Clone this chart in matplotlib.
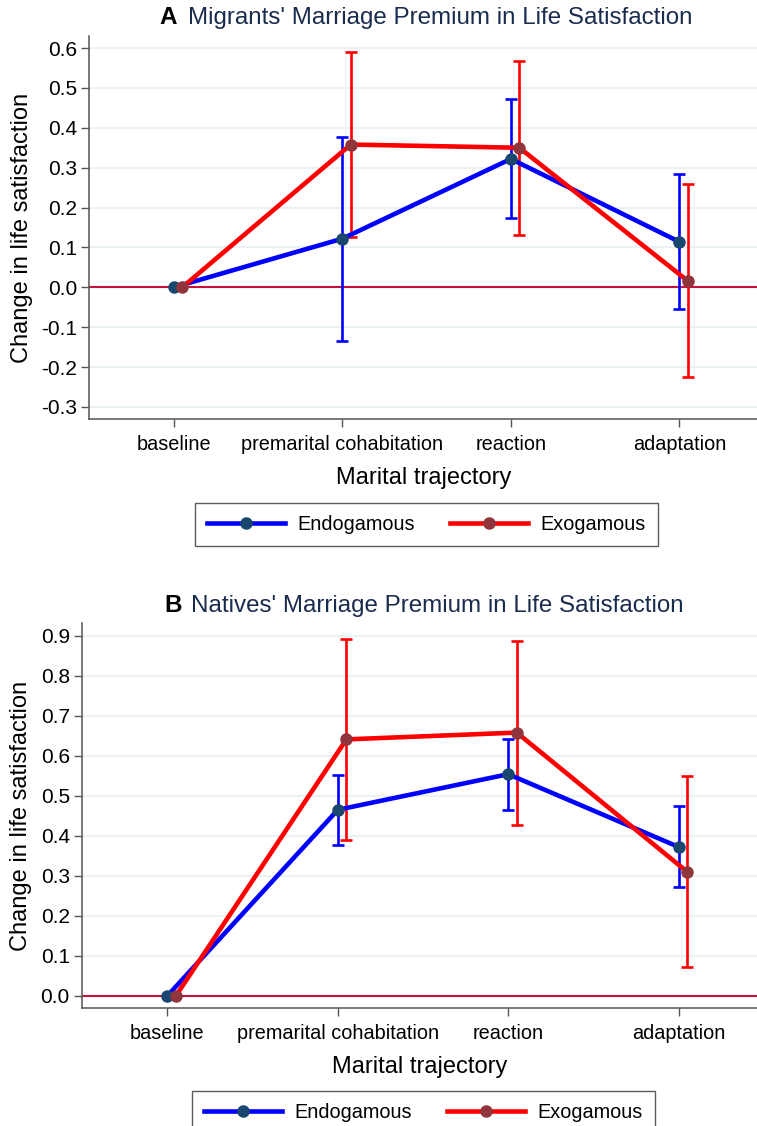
import numpy as np
import matplotlib
matplotlib.use("Agg")
import matplotlib.pyplot as plt
from matplotlib.lines import Line2D

plt.rcParams['font.family'] = ['Liberation Sans', 'DejaVu Sans']

# categories on the x axis
categories = ['baseline', 'premarital cohabitation', 'reaction', 'adaptation']

# Panel A - migrants
mig_endo = [0.0, 0.122, 0.322, 0.114]
mig_endo_lo = [np.nan, -0.135, 0.175, -0.055]
mig_endo_hi = [np.nan, 0.377, 0.471, 0.284]
mig_exo = [0.0, 0.358, 0.350, 0.016]
mig_exo_lo = [np.nan, 0.126, 0.131, -0.225]
mig_exo_hi = [np.nan, 0.591, 0.568, 0.258]

# Panel B - natives
nat_endo = [0.0, 0.465, 0.554, 0.372]
nat_endo_lo = [np.nan, 0.378, 0.465, 0.271]
nat_endo_hi = [np.nan, 0.553, 0.642, 0.475]
nat_exo = [0.0, 0.641, 0.658, 0.310]
nat_exo_lo = [np.nan, 0.390, 0.427, 0.073]
nat_exo_hi = [np.nan, 0.891, 0.887, 0.549]

mig_yticks = [-0.3, -0.2, -0.1, 0.0, 0.1, 0.2, 0.3, 0.4, 0.5, 0.6]
nat_yticks = [0.0, 0.1, 0.2, 0.3, 0.4, 0.5, 0.6, 0.7, 0.8, 0.9]

BLUE = '#0000ff'
RED = '#ff0000'
NAVY = '#1a476f'
MAROON = '#90353b'
GRID = '#eaf2f3'
ZERO = '#c8103c'
AXC = '#555555'
TITLE_C = '#1a2c4e'
LW = 3.3
MS = 8

fig = plt.figure(figsize=(7.57, 11.26), dpi=100)
ax_a = fig.add_axes([0.1182, 0.6276, 0.8818, 0.3407])
ax_b = fig.add_axes([0.1087, 0.1045, 0.8913, 0.3422])


def draw_panel(ax, endo, endo_lo, endo_hi, exo, exo_lo, exo_hi, yticks, ylim):
    x = np.arange(1, len(categories) + 1)
    xr = x + 0.05
    endo = np.array(endo)
    exo = np.array(exo)
    # confidence intervals
    e_err = [endo - np.array(endo_lo), np.array(endo_hi) - endo]
    r_err = [exo - np.array(exo_lo), np.array(exo_hi) - exo]
    ax.errorbar(x[1:], endo[1:], yerr=[e_err[0][1:], e_err[1][1:]], fmt='none',
                ecolor=BLUE, elinewidth=1.9, capsize=4, capthick=1.9, zorder=3)
    ax.errorbar(xr[1:], exo[1:], yerr=[r_err[0][1:], r_err[1][1:]], fmt='none',
                ecolor=RED, elinewidth=1.9, capsize=4, capthick=1.9, zorder=3)
    # connected lines
    ax.plot(x, endo, color=BLUE, lw=LW, marker='o', ms=MS, mfc=NAVY, mec=NAVY, zorder=4)
    ax.plot(xr, exo, color=RED, lw=LW, marker='o', ms=MS, mfc=MAROON, mec=MAROON, zorder=5)

    ax.axhline(0, color=ZERO, lw=1.5, zorder=2)
    ax.set_xlim(0.5, 4.46)
    ax.set_ylim(*ylim)
    ax.set_xticks(x)
    ax.set_xticklabels(categories, fontsize=14.3)
    ax.set_yticks(yticks)
    ax.set_yticklabels(['%.1f' % t for t in yticks], fontsize=15)
    ax.yaxis.grid(True, color=GRID, lw=1.5, zorder=0)
    ax.set_axisbelow(True)
    for s in ['top', 'right']:
        ax.spines[s].set_visible(False)
    for s in ['left', 'bottom']:
        ax.spines[s].set_color(AXC)
        ax.spines[s].set_linewidth(1.1)
    ax.tick_params(axis='both', colors=AXC, length=5.5, width=1.0, labelcolor='black')
    ax.tick_params(axis='x', pad=6)
    ax.tick_params(axis='y', pad=3.5)
    ax.set_xlabel('Marital trajectory', fontsize=17, labelpad=9)
    ax.set_ylabel('Change in life satisfaction', fontsize=17, labelpad=6)


draw_panel(ax_a, mig_endo, mig_endo_lo, mig_endo_hi, mig_exo, mig_exo_lo, mig_exo_hi,
           mig_yticks, (-0.331, 0.631))
draw_panel(ax_b, nat_endo, nat_endo_lo, nat_endo_hi, nat_exo, nat_exo_lo, nat_exo_hi,
           nat_yticks, (-0.0315, 0.932))

# titles: bold panel letter + navy text
fig.text(159 / 757, 1 - 18 / 1126, 'A', fontsize=17.5, fontweight='bold', va='center', ha='left')
fig.text(188 / 757, 1 - 18 / 1126, "Migrants' Marriage Premium in Life Satisfaction",
         fontsize=17.4, color=TITLE_C, va='center', ha='left')
fig.text(164 / 757, 1 - 606 / 1126, 'B', fontsize=17.5, fontweight='bold', va='center', ha='left')
fig.text(191 / 757, 1 - 606 / 1126, "Natives' Marriage Premium in Life Satisfaction",
         fontsize=17.4, color=TITLE_C, va='center', ha='left')

handles = [
    Line2D([], [], color=BLUE, lw=LW, marker='o', ms=MS, mfc=NAVY, mec=NAVY),
    Line2D([], [], color=RED, lw=LW, marker='o', ms=MS, mfc=MAROON, mec=MAROON),
]
labels = ['Endogamous', 'Exogamous']

for ax, cx, top in [(ax_a, 426.5, 503), (ax_b, 423.5, 1090.7)]:
    leg = ax.legend(handles, labels, loc='upper center', ncol=2, fontsize=14.3,
                    bbox_to_anchor=(cx / 757, 1 - top / 1126), bbox_transform=fig.transFigure,
                    frameon=True, fancybox=False, handlelength=3.9, handletextpad=0.65,
                    columnspacing=1.76, borderpad=0.6, borderaxespad=0)
    leg.get_frame().set_edgecolor('#333333')
    leg.get_frame().set_linewidth(1.0)

fig.savefig('out.png', dpi=100)
